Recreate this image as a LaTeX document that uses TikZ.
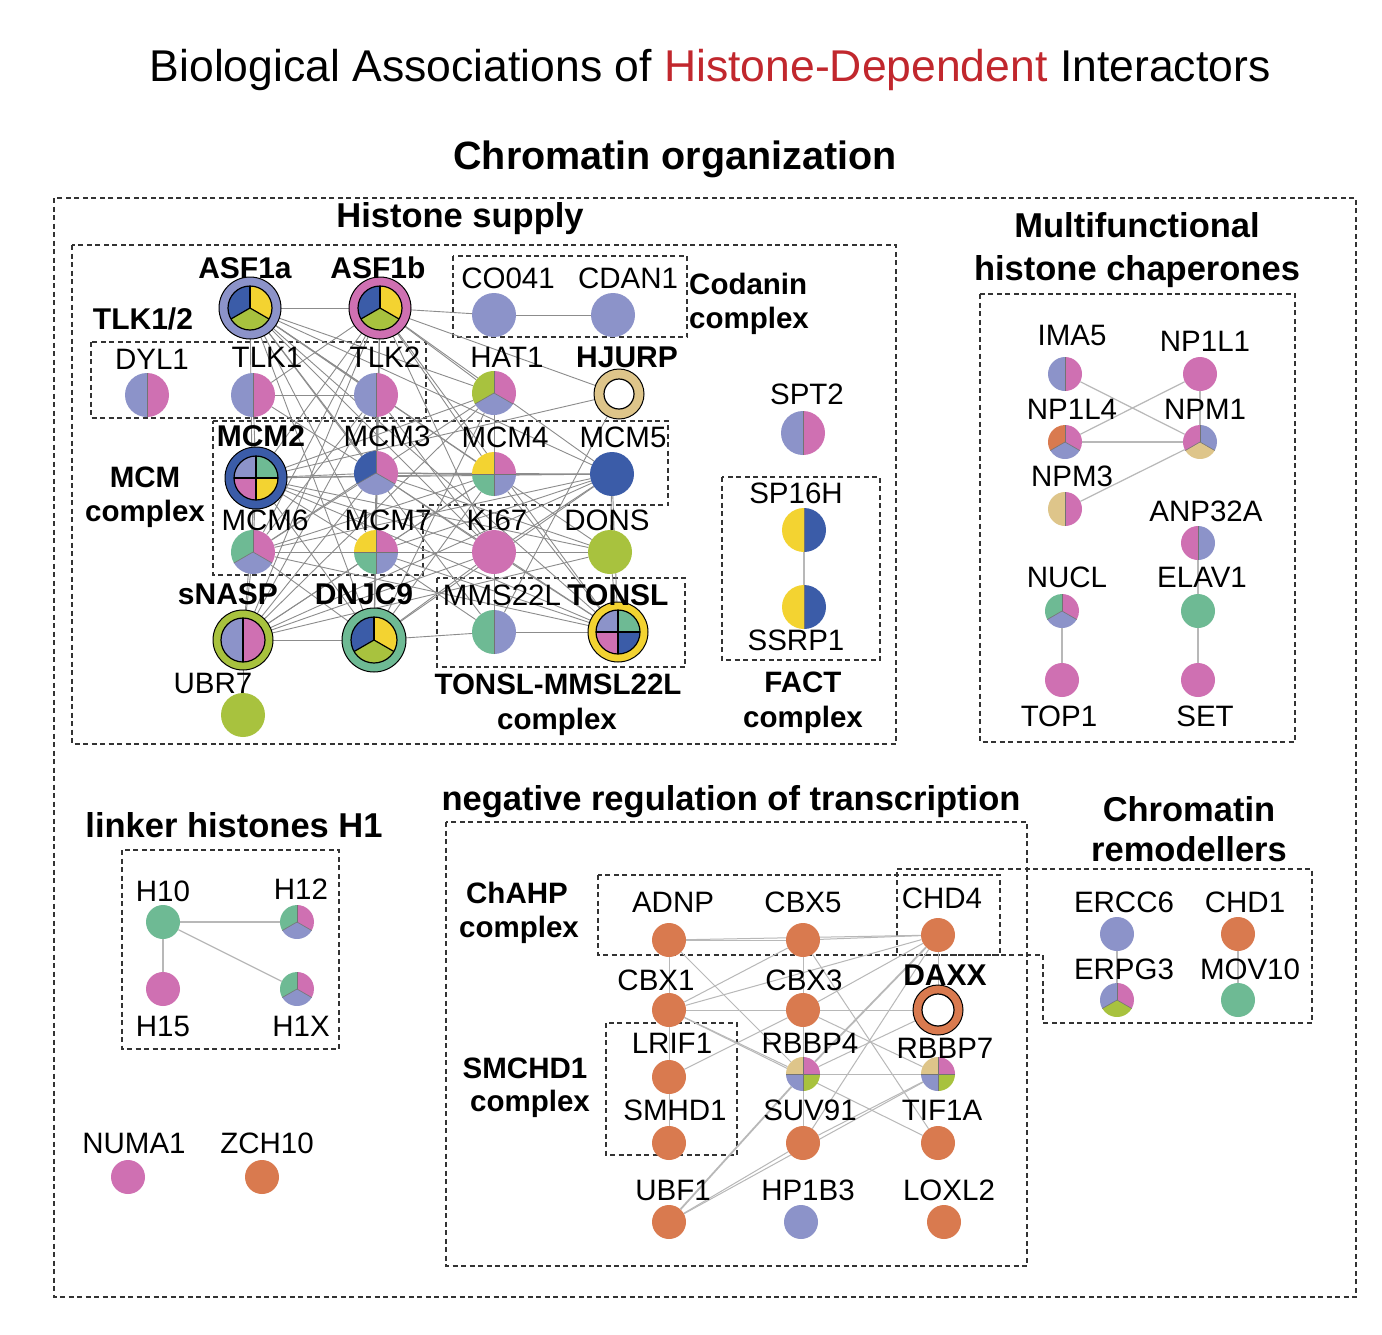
\documentclass[tikz,border=0pt]{standalone}
\usepackage{fontspec}
\setmainfont{Liberation Sans}
\definecolor{cLav}{HTML}{8C93C9}
\definecolor{cPink}{HTML}{CF70B2}
\definecolor{cBlue}{HTML}{3B5CA8}
\definecolor{cYel}{HTML}{F3D331}
\definecolor{cLime}{HTML}{A8C23E}
\definecolor{cTeal}{HTML}{6EBA94}
\definecolor{cTan}{HTML}{DEC58A}
\definecolor{cOr}{HTML}{D97A4F}
\definecolor{cRed}{HTML}{C1272D}
\newcommand{\mypie}[5]{%
  \foreach \pC [count=\pI from 0] in {#4}{%
    \pgfmathsetmacro\pA{90-360/#3*\pI}%
    \pgfmathsetmacro\pB{90-360/#3*(\pI+1)}%
    \fill[fill=\pC] (#1.center) -- ++(\pA:#2pt) arc[start angle=\pA, end angle=\pB, radius=#2pt] -- cycle;
  }%
  \foreach \pI in {1,...,#3}{%
    \pgfmathsetmacro\pA{90-360/#3*\pI}%
    \draw[#5] (#1.center) -- ++(\pA:#2pt);
  }%
}
\newcommand{\mydot}[3]{\fill[#3] (#1.center) circle[radius=#2pt];}
\newcommand{\myring}[6]{%
  \filldraw[fill=#3, draw=black, line width=1pt] (#1.center) circle[radius=#2pt];
  \mypie{#1}{#4}{#5}{#6}{black, line width=1.2pt}
  \draw[black, line width=1.2pt] (#1.center) circle[radius=#4pt];
}
\newcommand{\myhole}[4]{%
  \filldraw[fill=#3, draw=black, line width=1pt] (#1.center) circle[radius=#2pt];
  \filldraw[fill=white, draw=black, line width=1.2pt] (#1.center) circle[radius=#4pt];
}
\begin{document}
\begin{tikzpicture}[x=1pt,y=-1pt,
  nd/.style={circle,inner sep=0pt,minimum size=#1*2pt},
  lab/.style={inner sep=0pt,font=\fontsize{29.5}{34}\selectfont,text height=21.1pt,text depth=0pt},
  blab/.style={inner sep=0pt,font=\fontsize{30}{34}\selectfont\bfseries,text height=21.5pt,text depth=0pt},
  cpx/.style={inner sep=0pt,font=\fontsize{29.5}{34}\selectfont\bfseries,text height=21.1pt,text depth=0pt},
  sect/.style={inner sep=0pt,font=\fontsize{34.5}{40}\selectfont\bfseries,text height=24.7pt,text depth=0pt},
  dbox/.style={draw=black!80,line width=1.1pt,dash pattern=on 5pt off 3.5pt},
  eH/.style={draw=black!45,line width=0.9pt},
  eL/.style={draw=black!28,line width=1.2pt},
  pl/.style={draw=black!55,line width=0.6pt}]
\useasboundingbox (0,0) rectangle (1382,1334);
\fill[white] (0,0) rectangle (1382,1334);

% ---------- headings ----------
\node[inner sep=0pt,font=\fontsize{44.5}{50}\selectfont,text height=31.9pt,text depth=0pt] (title) at (710,66)
  {Biological Associations of \textcolor{cRed}{Histone-Dependent} Interactors};
\node[inner sep=0pt,font=\fontsize{39.5}{45}\selectfont\bfseries,text height=28.3pt,text depth=0pt] (hChrom) at (675,155) {Chromatin organization};
\node[sect] (hSupply) at (460,215) {Histone supply};
\node[sect] (hMulti1) at (1137,225) {Multifunctional};
\node[sect] (hMulti2) at (1137,268) {histone chaperones};
\node[sect] (hLinker) at (234,825) {linker histones H1};
\node[sect] (hNeg) at (731,798) {negative regulation of transcription};
\node[sect] (hRem1) at (1189,809) {Chromatin};
\node[sect] (hRem2) at (1189,849) {remodellers};

% ---------- dashed boxes ----------
\draw[dbox] (54,198) rectangle (1356,1297);
\draw[dbox] (72,245) rectangle (896,744);
\draw[dbox] (91,342) rectangle (426,418);
\draw[dbox] (213,421) -- (668,421) -- (668,505) -- (423,505) -- (423,575) -- (213,575) -- cycle;
\draw[dbox] (453,256) rectangle (687,337);
\draw[dbox] (437,578) rectangle (685,667);
\draw[dbox] (722,477) rectangle (880,660);
\draw[dbox] (980,294) rectangle (1295,742);
\draw[dbox] (122,850) rectangle (339,1049);
\draw[dbox] (446,822) rectangle (1027,1266);
\draw[dbox] (598,875) rectangle (1000,955);
\draw[dbox] (897,869) -- (1312,869) -- (1312,1023) -- (1043,1023) -- (1043,955) -- (897,955) -- cycle;
\draw[dbox] (606,1023) rectangle (737,1155);

% ---------- complex labels ----------
\node[blab] (tTLK12) at (143,319) {TLK1/2};
\node[cpx,anchor=west] (tCod1) at (689,284) {Codanin};
\node[cpx,anchor=west] (tCod2) at (689,318) {complex};
\node[cpx] (tMCMc1) at (145,477) {MCM};
\node[cpx] (tMCMc2) at (145,511) {complex};
\node[cpx] (tTon1) at (558,684) {TONSL-MMSL22L};
\node[cpx] (tTon2) at (557,719) {complex};
\node[cpx] (tFACT1) at (803,682) {FACT};
\node[cpx] (tFACT2) at (803,717) {complex};
\node[cpx] (tChA1) at (517,893) {ChAHP};
\node[cpx] (tChA2) at (519,927) {complex};
\node[cpx] (tSMC1) at (525,1068) {SMCHD1};
\node[cpx] (tSMC2) at (530,1101) {complex};

% ---------- nodes: histone supply ----------
\node[nd=31] (ASF1a) at (250,308) {};
\node[nd=31] (ASF1b) at (380,308) {};
\node[nd=22] (DYL1) at (147,395) {};
\node[nd=22] (TLK1) at (253,395) {};
\node[nd=22] (TLK2) at (376,395) {};
\node[nd=22] (CO041) at (494,315) {};
\node[nd=22] (CDAN1) at (613,315) {};
\node[nd=22] (HAT1) at (494,393) {};
\node[nd=25] (HJURP) at (619,394) {};
\node[nd=31] (MCM2) at (256,478) {};
\node[nd=22] (MCM3) at (376,473) {};
\node[nd=22] (MCM4) at (494,474) {};
\node[nd=22] (MCM5) at (612,474) {};
\node[nd=22] (MCM6) at (253,552) {};
\node[nd=22] (MCM7) at (376,552) {};
\node[nd=22] (KI67) at (494,552) {};
\node[nd=22] (DONS) at (610,552) {};
\node[nd=30] (sNASP) at (243,640) {};
\node[nd=32] (DNJC9) at (374,640) {};
\node[nd=22] (UBR7) at (243,715) {};
\node[nd=22] (MMS22L) at (494,632) {};
\node[nd=30] (TONSL) at (618,632) {};
\node[nd=22] (SPT2) at (803,433) {};
\node[nd=22] (SP16H) at (804,530) {};
\node[nd=22] (SSRP1) at (804,607) {};

% ---------- nodes: multifunctional ----------
\node[nd=17] (IMA5) at (1065,374) {};
\node[nd=17] (NP1L1) at (1200,374) {};
\node[nd=17] (NP1L4) at (1065,442) {};
\node[nd=17] (NPM1) at (1200,442) {};
\node[nd=17] (NPM3) at (1065,509) {};
\node[nd=17] (ANP32A) at (1198,543) {};
\node[nd=17] (NUCL) at (1062,611) {};
\node[nd=17] (ELAV1) at (1198,611) {};
\node[nd=17] (TOP1) at (1062,680) {};
\node[nd=17] (SET) at (1198,680) {};

% ---------- nodes: linker ----------
\node[nd=17] (H10) at (163,922) {};
\node[nd=17] (H12) at (297,922) {};
\node[nd=17] (H15) at (163,989) {};
\node[nd=17] (H1X) at (297,989) {};
\node[nd=17] (NUMA1) at (128,1177) {};
\node[nd=17] (ZCH10) at (262,1177) {};

% ---------- nodes: remodellers ----------
\node[nd=17] (ERCC6) at (1117,934) {};
\node[nd=17] (CHD1) at (1238,934) {};
\node[nd=17] (ERPG3) at (1117,1000) {};
\node[nd=17] (MOV10) at (1238,1000) {};

% ---------- nodes: negative regulation ----------
\node[nd=17] (ADNP) at (669,940) {};
\node[nd=17] (CBX5) at (803,940) {};
\node[nd=17] (CHD4) at (938,935) {};
\node[nd=17] (CBX1) at (669,1010) {};
\node[nd=17] (CBX3) at (803,1010) {};
\node[nd=25] (DAXX) at (938,1010) {};
\node[nd=17] (LRIF1) at (669,1077) {};
\node[nd=17] (RBBP4) at (803,1074) {};
\node[nd=17] (RBBP7) at (938,1074) {};
\node[nd=17] (SMHD1) at (669,1143) {};
\node[nd=17] (SUV91) at (803,1143) {};
\node[nd=17] (TIF1A) at (938,1143) {};
\node[nd=17] (UBF1) at (669,1222) {};
\node[nd=17] (HP1B3) at (801,1222) {};
\node[nd=17] (LOXL2) at (944,1222) {};

% ---------- edges ----------
\foreach \a/\b in {ASF1a/ASF1b, ASF1b/CO041, CO041/CDAN1, TLK1/TLK2, TLK1/MCM2,
  ASF1a/TLK2, ASF1a/MCM3, ASF1a/MCM4, ASF1a/MCM5, ASF1a/MCM6, ASF1a/MCM7, ASF1a/HAT1, ASF1a/KI67, ASF1a/DONS, ASF1a/MMS22L, ASF1a/TONSL, ASF1a/DNJC9,
  ASF1b/TLK1, ASF1b/MCM2, ASF1b/MCM3, ASF1b/MCM4, ASF1b/MCM5, ASF1b/MCM6, ASF1b/MCM7, ASF1b/HAT1, ASF1b/HJURP, ASF1b/sNASP, ASF1b/DNJC9, ASF1b/TONSL, ASF1b/KI67,
  sNASP/DNJC9, sNASP/UBR7, sNASP/MCM6, sNASP/MCM2, sNASP/MCM3, sNASP/MCM4, sNASP/MCM5, sNASP/MCM7, sNASP/KI67, sNASP/HAT1, sNASP/TLK2, sNASP/DONS,
  DNJC9/MCM7, DNJC9/MCM6, DNJC9/MCM2, DNJC9/MCM3, DNJC9/MCM4, DNJC9/MCM5, DNJC9/KI67, DNJC9/MMS22L, DNJC9/HAT1,
  TONSL/MMS22L, TONSL/MCM2, TONSL/MCM3, TONSL/MCM4, TONSL/MCM5, TONSL/MCM6, TONSL/MCM7, TONSL/KI67, TONSL/DONS,
  MCM2/MCM3, MCM2/MCM4, MCM2/MCM5, MCM2/MCM6, MCM2/MCM7, MCM3/MCM4, MCM3/MCM5, MCM3/MCM6, MCM3/MCM7, MCM4/MCM5, MCM4/MCM6, MCM4/MCM7, MCM5/MCM6, MCM5/MCM7, MCM6/MCM7,
  MCM7/KI67, KI67/DONS, KI67/MCM5, KI67/MCM3, KI67/MCM2, DONS/MCM5, DONS/MCM3, DONS/MCM2, HAT1/MCM4, HAT1/MCM2, HAT1/MCM6, HJURP/MCM2, HJURP/MMS22L,
  TLK2/MCM7, TLK2/KI67, TLK1/MCM3, TLK2/MCM6, MMS22L/MCM7, MMS22L/KI67}
  \draw[eH] (\a) -- (\b);
\draw[eL] (SP16H) -- (SSRP1);
\foreach \a/\b in {IMA5/NPM1, NP1L1/NP1L4, NP1L4/NPM1, NPM3/NPM1, NP1L1/NPM1, ANP32A/ELAV1, ELAV1/SET, NUCL/TOP1,
  H10/H12, H10/H15, H10/H1X, ERCC6/ERPG3, CHD1/MOV10}
  \draw[eL] (\a) -- (\b);
\foreach \a/\b in {ADNP/CBX5, ADNP/CHD4, CBX5/CHD4, ADNP/CBX1, ADNP/RBBP4, CBX5/CBX1, CBX5/CBX3, CBX5/TIF1A,
  CHD4/CBX1, CHD4/CBX3, CHD4/DAXX, CHD4/SUV91, CBX1/CBX3, CBX1/DAXX, CBX1/LRIF1, CBX1/RBBP4, CBX1/TIF1A,
  CBX3/RBBP4, CBX3/LRIF1, CBX3/RBBP7, RBBP4/RBBP7, RBBP4/SUV91, RBBP4/DAXX, RBBP7/SUV91, RBBP7/UBF1, UBF1/SUV91, SMHD1/LRIF1}
  \draw[eL,line width=1pt] (\a) -- (\b);
\draw[eL,line width=1.8pt] (CHD4) -- (RBBP4);
\draw[eL,line width=1.8pt] (UBF1) -- (RBBP4);

% ---------- pies: histone supply ----------
\mypie{DYL1}{22}{2}{cPink,cLav}{pl}
\mypie{TLK1}{22}{2}{cPink,cLav}{pl}
\mypie{TLK2}{22}{2}{cPink,cLav}{pl}
\myring{ASF1a}{31}{cLav}{22}{3}{cYel,cLime,cBlue}
\myring{ASF1b}{31}{cPink}{22}{3}{cYel,cLime,cBlue}
\mydot{CO041}{22}{cLav}
\mydot{CDAN1}{22}{cLav}
\mypie{HAT1}{22}{3}{cPink,cLav,cLime}{pl}
\myhole{HJURP}{25}{cTan}{15}
\myring{MCM2}{31}{cBlue}{22}{4}{cTeal,cYel,cPink,cLav}
\mypie{MCM3}{22}{3}{cPink,cLav,cBlue}{pl}
\mypie{MCM4}{22}{4}{cPink,cLav,cTeal,cYel}{pl}
\mydot{MCM5}{22}{cBlue}
\mypie{MCM6}{22}{3}{cPink,cLav,cTeal}{pl}
\mypie{MCM7}{22}{4}{cPink,cLav,cTeal,cYel}{pl}
\mydot{KI67}{22}{cPink}
\mydot{DONS}{22}{cLime}
\myring{sNASP}{30}{cLime}{22}{2}{cPink,cLav}
\myring{DNJC9}{32}{cTeal}{23}{3}{cYel,cLime,cBlue}
\mydot{UBR7}{22}{cLime}
\mypie{MMS22L}{22}{2}{cLav,cTeal}{pl}
\myring{TONSL}{30}{cYel}{22}{4}{cTeal,cBlue,cPink,cLav}
\mypie{SPT2}{22}{2}{cPink,cLav}{pl}
\mypie{SP16H}{22}{2}{cBlue,cYel}{pl}
\mypie{SSRP1}{22}{2}{cBlue,cYel}{pl}

% ---------- pies: multifunctional ----------
\mypie{IMA5}{17}{2}{cPink,cLav}{pl}
\mydot{NP1L1}{17}{cPink}
\mypie{NP1L4}{17}{3}{cPink,cLav,cOr}{pl}
\mypie{NPM1}{17}{3}{cLav,cTan,cPink}{pl}
\mypie{NPM3}{17}{2}{cPink,cTan}{pl}
\mypie{ANP32A}{17}{2}{cLav,cPink}{pl}
\mypie{NUCL}{17}{3}{cPink,cLav,cTeal}{pl}
\mydot{ELAV1}{17}{cTeal}
\mydot{TOP1}{17}{cPink}
\mydot{SET}{17}{cPink}

% ---------- pies: linker ----------
\mydot{H10}{17}{cTeal}
\mypie{H12}{17}{3}{cPink,cLav,cTeal}{pl}
\mydot{H15}{17}{cPink}
\mypie{H1X}{17}{3}{cPink,cLav,cTeal}{pl}
\mydot{NUMA1}{17}{cPink}
\mydot{ZCH10}{17}{cOr}

% ---------- pies: remodellers ----------
\mydot{ERCC6}{17}{cLav}
\mydot{CHD1}{17}{cOr}
\mypie{ERPG3}{17}{3}{cPink,cLime,cLav}{pl}
\mydot{MOV10}{17}{cTeal}

% ---------- pies: negative regulation ----------
\foreach \n in {ADNP,CBX5,CHD4,CBX1,CBX3,LRIF1,SMHD1,SUV91,TIF1A,UBF1,LOXL2}
  {\mydot{\n}{17}{cOr}}
\mydot{HP1B3}{17}{cLav}
\mypie{RBBP4}{17}{4}{cPink,cLime,cLav,cTan}{pl}
\mypie{RBBP7}{17}{4}{cPink,cLime,cLav,cTan}{pl}
\myhole{DAXX}{25}{cOr}{16}

% ---------- node labels ----------
\node[blab] (tASF1a) at (245,268) {ASF1a};
\node[blab] (tASF1b) at (378,268) {ASF1b};
\node[lab] (tDYL1) at (152,359) {DYL1};
\node[lab] (tTLK1) at (267,357) {TLK1};
\node[lab] (tTLK2) at (385,357) {TLK2};
\node[lab] (tCO041) at (508,278) {CO041};
\node[lab] (tCDAN1) at (628,278) {CDAN1};
\node[lab] (tHAT1) at (507,357) {HAT1};
\node[blab] (tHJURP) at (627,357) {HJURP};
\node[blab] (tMCM2) at (261,436) {MCM2};
\node[lab] (tMCM3) at (387,436) {MCM3};
\node[lab] (tMCM4) at (505,437) {MCM4};
\node[lab] (tMCM5) at (623,437) {MCM5};
\node[lab] (tMCM6) at (265,520) {MCM6};
\node[lab] (tMCM7) at (388,520) {MCM7};
\node[lab] (tKI67) at (497,520) {KI67};
\node[lab] (tDONS) at (607,520) {DONS};
\node[blab] (tsNASP) at (228,594) {sNASP};
\node[blab] (tDNJC9) at (364,594) {DNJC9};
\node[lab] (tMMS22L) at (502,595) {MMS22L};
\node[blab] (tTONSL) at (618,595) {TONSL};
\node[lab] (tUBR7) at (213,683) {UBR7};
\node[lab] (tSPT2) at (807,394) {SPT2};
\node[lab] (tSP16H) at (796,493) {SP16H};
\node[lab] (tSSRP1) at (796,640) {SSRP1};

\node[lab] (tIMA5) at (1072,335) {IMA5};
\node[lab] (tNP1L1) at (1205,341) {NP1L1};
\node[lab] (tNP1L4) at (1072,409) {NP1L4};
\node[lab] (tNPM1) at (1205,409) {NPM1};
\node[lab] (tNPM3) at (1072,476) {NPM3};
\node[lab] (tANP32A) at (1206,511) {ANP32A};
\node[lab] (tNUCL) at (1067,577) {NUCL};
\node[lab] (tELAV1) at (1202,577) {ELAV1};
\node[lab] (tTOP1) at (1059,716) {TOP1};
\node[lab] (tSET) at (1205,716) {SET};

\node[lab] (tH10) at (163,891) {H10};
\node[lab] (tH12) at (301,889) {H12};
\node[lab] (tH15) at (163,1026) {H15};
\node[lab] (tH1X) at (301,1026) {H1X};
\node[lab] (tNUMA1) at (134,1143) {NUMA1};
\node[lab] (tZCH10) at (267,1143) {ZCH10};

\node[lab] (tERCC6) at (1124,902) {ERCC6};
\node[lab] (tCHD1) at (1245,902) {CHD1};
\node[lab] (tERPG3) at (1124,969) {ERPG3};
\node[lab] (tMOV10) at (1250,969) {MOV10};

\node[lab] (tADNP) at (673,902) {ADNP};
\node[lab] (tCBX5) at (803,902) {CBX5};
\node[lab] (tCHD4) at (942,898) {CHD4};
\node[lab] (tCBX1) at (656,980) {CBX1};
\node[lab] (tCBX3) at (804,980) {CBX3};
\node[blab] (tDAXX) at (945,975) {DAXX};
\node[lab] (tLRIF1) at (672,1043) {LRIF1};
\node[lab] (tRBBP4) at (810,1043) {RBBP4};
\node[lab] (tRBBP7) at (945,1048) {RBBP7};
\node[lab] (tSMHD1) at (675,1110) {SMHD1};
\node[lab] (tSUV91) at (810,1110) {SUV91};
\node[lab] (tTIF1A) at (942,1110) {TIF1A};
\node[lab] (tUBF1) at (673,1190) {UBF1};
\node[lab] (tHP1B3) at (808,1190) {HP1B3};
\node[lab] (tLOXL2) at (949,1190) {LOXL2};
\end{tikzpicture}
\end{document}
